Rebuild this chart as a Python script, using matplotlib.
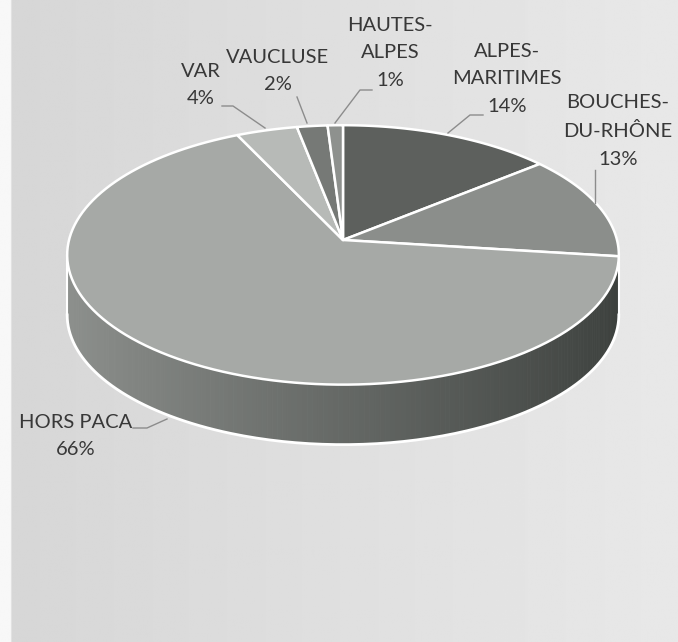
import numpy as np
import matplotlib.pyplot as plt
from matplotlib.colors import to_rgb
from matplotlib.patches import Polygon

# data
labels = ['ALPES-\nMARITIMES', 'BOUCHES-\nDU-RHÔNE', 'HORS PACA', 'VAR', 'VAUCLUSE', 'HAUTES-\nALPES']
values = [14, 13, 66, 4, 2, 1]
top_colors = ['#5d605d', '#8b8e8b', '#a6a9a6', '#b7bab7', '#767976', '#8e918e']
side_left = ['#4a4d4a', '#505350', '#8e918e', '#8e918e', '#5a5d5a', '#6a6d6a']
side_right = ['#3a3d3a', '#3e413e', '#3c403d', '#707370', '#4a4d4a', '#555855']

# geometry of the tilted pie (pixels)
CX, CY = 343, 240
A, B, K = 274, 128, 0.115
DEPTH = 60


def rim(phi, dy=0.0):
    w = 1 + K * np.sin(phi)
    return CX + A * np.cos(phi) / w, CY - B * np.sin(phi) / w + dy


fig = plt.figure(figsize=(6.78, 6.42), dpi=100)
ax = fig.add_axes([0, 0, 1, 1])
ax.set_xlim(0, 678)
ax.set_ylim(642, 0)
ax.axis('off')

# scanned paper background
gx = np.linspace(0, 1, 300)
bg = np.tile(0.84 + 0.07 * gx, (10, 1))
bg[:, :5] = 0.97
ax.imshow(bg, cmap='gray', vmin=0, vmax=1, extent=[0, 678, 642, 0], aspect='auto', zorder=0)

frac = np.array(values) / np.sum(values)
ends = np.pi / 2 - 2 * np.pi * np.cumsum(frac)
starts = np.concatenate([[np.pi / 2], ends[:-1]])

# front side (visible where sin(phi) < -K)
f_lo, f_hi = -np.pi + np.arcsin(K), -np.arcsin(K)
for s, e, cl, cr in zip(starts, ends, side_left, side_right):
    lo, hi = max(e, f_lo), min(s, f_hi)
    if hi <= lo:
        continue
    c0, c1 = np.array(to_rgb(cl)), np.array(to_rgb(cr))
    steps = np.linspace(lo, hi, max(3, int((hi - lo) * 60)))
    for a0, a1 in zip(steps[:-1], steps[1:]):
        t = (np.cos((a0 + a1) / 2) + 1) / 2
        col = c0 * (1 - t) + c1 * t
        ph = np.linspace(a0, a1, 4)
        x1, y1 = rim(ph)
        x2, y2 = rim(ph[::-1], DEPTH)
        pts = np.column_stack([np.concatenate([x1, x2]), np.concatenate([y1, y2])])
        ax.add_patch(Polygon(pts, closed=True, facecolor=col, edgecolor=col, lw=0.6, zorder=2))

# outline of the side
ph = np.linspace(f_lo, f_hi, 200)
x2, y2 = rim(ph, DEPTH)
ax.plot(x2, y2, color='white', lw=2, zorder=3)
for p in (f_lo, f_hi):
    xa, ya = rim(p)
    xb, yb = rim(p, DEPTH)
    ax.plot([xa, xb], [ya, yb], color='white', lw=1.5, zorder=3)

# top faces
for s, e, c in zip(starts, ends, top_colors):
    ph = np.linspace(s, e, 120)
    x, y = rim(ph)
    pts = np.column_stack([np.concatenate([[CX], x]), np.concatenate([[CY], y])])
    ax.add_patch(Polygon(pts, closed=True, facecolor=c, edgecolor='white', lw=1.8,
                         joinstyle='round', zorder=4))

# labels
txt = dict(ha='center', va='center', fontsize=14.5, color='#383838', family='Lato', linespacing=1.75)
label_pos = [(507, 79), (618, 131), (76, 436), (201, 85), (278, 71), (390, 53)]
for lab, v, (lx, ly) in zip(labels, values, label_pos):
    ax.text(lx, ly, f'{lab}\n{v}%', zorder=6, **txt)

leaders = [
    [(483, 115), (470, 115), (448, 133)],
    [(595, 170), (595, 203)],
    [(133, 428), (147, 428), (167, 419)],
    [(222, 106), (233, 106), (265, 128)],
    [(297, 97), (307, 123)],
    [(372, 90), (360, 90), (335, 123)],
]
for pts in leaders:
    xs, ys = zip(*pts)
    ax.plot(xs, ys, color='#8c8c8c', lw=1, zorder=5)

fig.savefig('out.png', dpi=100)
